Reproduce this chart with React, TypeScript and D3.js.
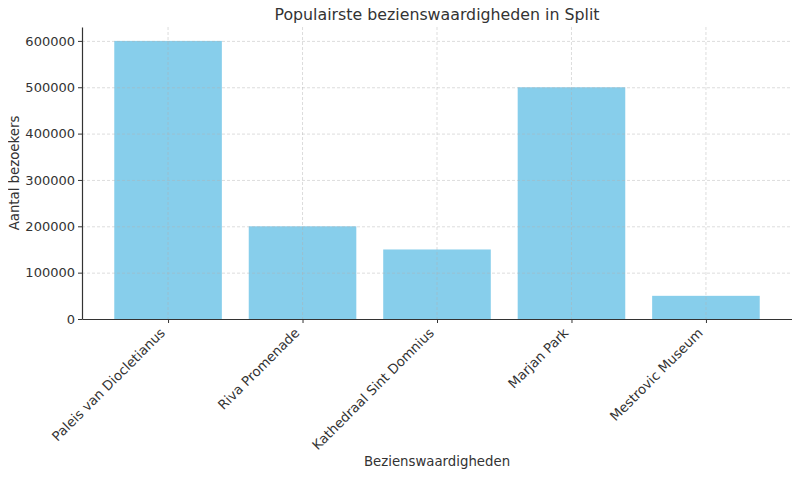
import React, { useEffect, useRef } from "react";
import * as d3 from "d3";

const categories = [
  "Paleis van Diocletianus",
  "Riva Promenade",
  "Kathedraal Sint Domnius",
  "Marjan Park",
  "Mestrovic Museum",
];
const visitors = [600000, 200000, 150000, 500000, 50000];
const yTicks = [0, 100000, 200000, 300000, 400000, 500000, 600000];

const App = () => {
  const svgRef = useRef<SVGSVGElement>(null);

  useEffect(() => {
    const width = 800;
    const height = 477;
    const margin = { top: 27, right: 8, bottom: 158, left: 82 };
    const font = "DejaVu Sans, sans-serif";
    const textColor = "#333333";

    const svg = d3.select(svgRef.current)
      .attr("width", width)
      .attr("height", height)
      .style("display", "block")
      .style("background", "#ffffff");

    svg.selectAll("*").remove();

    const n = categories.length;
    const x = d3.scaleLinear()
      .domain([-0.4 - 0.05 * (n - 0.2), n - 1 + 0.4 + 0.05 * (n - 0.2)])
      .range([margin.left, width - margin.right]);

    const yMax = d3.max(visitors) as number;
    const y = d3.scaleLinear()
      .domain([0, yMax * 1.05])
      .range([height - margin.bottom, margin.top]);

    const bw = x(0.8) - x(0);

    // bars
    svg.append("g")
      .selectAll("rect")
      .data(visitors)
      .enter()
      .append("rect")
      .attr("x", (d, i) => x(i) - bw / 2)
      .attr("y", d => y(d))
      .attr("width", bw)
      .attr("height", d => y(0) - y(d))
      .attr("fill", "#87ceeb");

    // grid
    const grid = svg.append("g")
      .attr("stroke", "#b0b0b0")
      .attr("stroke-opacity", 0.55)
      .attr("stroke-width", 0.8)
      .attr("stroke-dasharray", "3,2");

    grid.selectAll(".hg")
      .data(yTicks)
      .enter()
      .append("line")
      .attr("x1", margin.left)
      .attr("x2", width - margin.right)
      .attr("y1", d => y(d) + 0.5)
      .attr("y2", d => y(d) + 0.5);

    grid.selectAll(".vg")
      .data(categories)
      .enter()
      .append("line")
      .attr("x1", (d, i) => x(i))
      .attr("x2", (d, i) => x(i))
      .attr("y1", margin.top)
      .attr("y2", height - margin.bottom);

    // x axis
    const xAxis = svg.append("g")
      .attr("transform", `translate(0, ${height - margin.bottom})`)
      .call(
        d3.axisBottom(x)
          .tickValues(d3.range(n))
          .tickSize(4)
          .tickSizeOuter(0)
          .tickFormat(() => "")
      );
    xAxis.select(".domain").attr("stroke", "#333").attr("stroke-width", 1.2);
    xAxis.selectAll(".tick line").attr("stroke", "#333");

    const fs = 13.3;
    svg.append("g")
      .selectAll("text")
      .data(categories)
      .enter()
      .append("text")
      .attr("transform", (d, i) => {
        const bx = x(i) - 0.707 * 0.236 * fs;
        const by = height - margin.bottom + 6 + 0.707 * 0.93 * fs;
        return `translate(${bx},${by}) rotate(-45)`;
      })
      .attr("text-anchor", "end")
      .attr("font-family", font)
      .attr("font-size", fs)
      .attr("fill", textColor)
      .text(d => d);

    // y axis
    const yAxis = svg.append("g")
      .attr("transform", `translate(${margin.left}, 0)`)
      .call(
        d3.axisLeft(y)
          .tickValues(yTicks)
          .tickSize(4)
          .tickSizeOuter(0)
          .tickPadding(3)
          .tickFormat(d3.format("d"))
      );
    yAxis.select(".domain").attr("stroke", "#333").attr("stroke-width", 1.2);
    yAxis.selectAll(".tick line").attr("stroke", "#333");
    yAxis.selectAll(".tick text")
      .attr("font-family", font)
      .attr("font-size", 13)
      .attr("fill", textColor);

    // title and labels
    svg.append("text")
      .attr("x", (margin.left + width - margin.right) / 2)
      .attr("y", 20)
      .attr("text-anchor", "middle")
      .attr("font-family", font)
      .attr("font-size", 15.8)
      .attr("fill", textColor)
      .text("Populairste bezienswaardigheden in Split");

    svg.append("text")
      .attr("x", (margin.left + width - margin.right) / 2)
      .attr("y", 466)
      .attr("text-anchor", "middle")
      .attr("font-family", font)
      .attr("font-size", fs)
      .attr("fill", textColor)
      .text("Bezienswaardigheden");

    svg.append("text")
      .attr("transform", `translate(19, ${(margin.top + height - margin.bottom) / 2}) rotate(-90)`)
      .attr("text-anchor", "middle")
      .attr("font-family", font)
      .attr("font-size", fs)
      .attr("fill", textColor)
      .text("Aantal bezoekers");
  }, []);

  return (
    <div style={{ margin: -8 }}>
      <svg ref={svgRef}></svg>
    </div>
  );
};

export default App;
